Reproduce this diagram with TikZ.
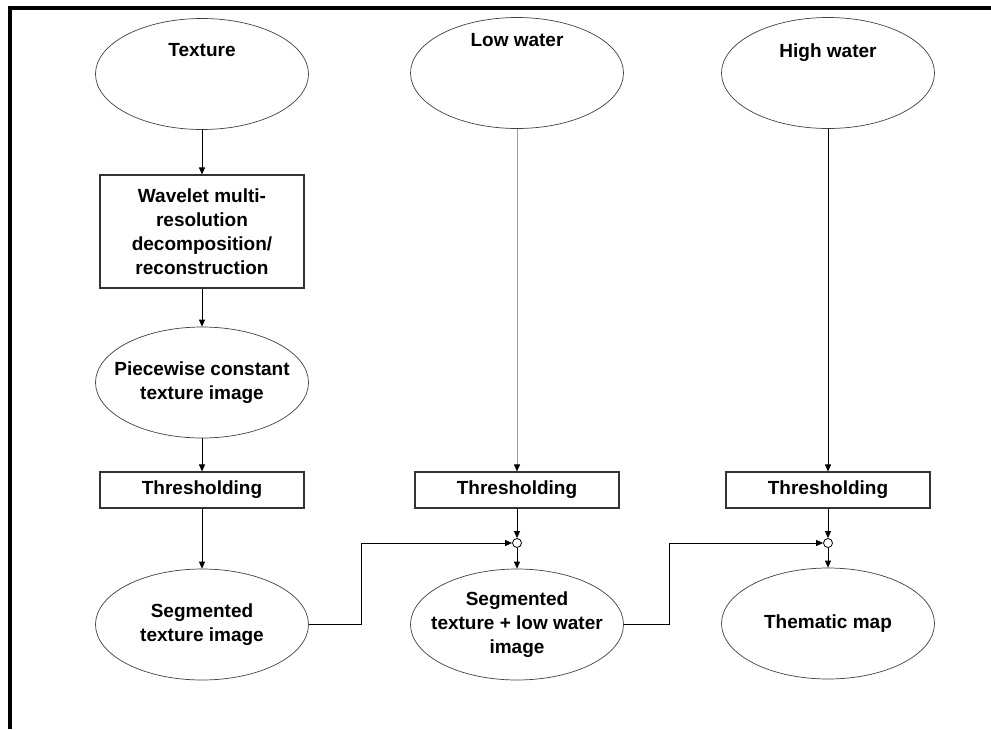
\documentclass[tikz,border=0pt]{standalone}
\usepackage{fontspec}
\setmainfont{Liberation Sans}
\usetikzlibrary{positioning,arrows.meta,shapes.geometric}
\newcommand{\lbl}{\fontsize{19}{24}\selectfont\bfseries}
\tikzset{
  blob/.style={ellipse, draw=black!75, line width=0.7pt, minimum width=213pt,
               minimum height=111pt, inner xsep=-30pt, inner ysep=-4pt,
               align=center, font=\lbl},
  box/.style={draw=black!80, line width=1.1pt, minimum width=204pt,
              inner sep=0pt, align=center, font=\lbl},
  arr/.style={-{Triangle[length=7pt,width=6pt,color=black]}, line width=0.8pt},
  joint/.style={circle, draw, fill=white, minimum size=9pt, inner sep=0pt, line width=0.8pt},
}

\begin{document}
\begin{tikzpicture}[x=1pt, y=-1pt]
  \useasboundingbox (0,0) rectangle (991,729);
  \draw[line width=4pt] (10,729) -- (10,8) -- (991,8);

  % inputs
  \node[blob, label={[font=\lbl, yshift=24pt]center:Texture}] (tex) at (202,74) {};
  \node[blob, label={[font=\lbl, yshift=33pt]center:Low water}] (low) at (517,73) {};
  \node[blob, label={[font=\lbl, yshift=20pt]center:High water}] (high) at (828,73) {};

  % texture branch
  \node[box, minimum height=113pt] (wav) at (202,231.5)
    {Wavelet multi-\\resolution\\decomposition/\\reconstruction};
  \node[blob] (pc) at (202,382.5) {Piecewise constant\\texture image};
  \node[box, minimum height=36pt] (th1) at (202,490) {Thresholding};
  \node[blob] (seg1) at (202,624.5) {Segmented\\texture image};

  % water levels
  \node[box, minimum height=36pt] (th2) at (517,490) {Thresholding};
  \node[box, minimum height=36pt] (th3) at (828,490) {Thresholding};
  \node[joint] (j2) at (517,543) {};
  \node[joint] (j3) at (828,543) {};
  \node[blob] (seg2) at (517,624.5) {Segmented\\texture + low water\\image};
  \node[blob] (map) at (828,623.5) {Thematic map};

  \draw[arr] (tex) -- (wav);
  \draw[arr] (wav) -- (pc);
  \draw[arr] (pc) -- (th1);
  \draw[arr] (th1) -- (seg1);
  \draw[arr, draw=black!40] (low) -- (th2);
  \draw[arr] (high) -- (th3);
  \draw[arr] (th2) -- (j2);
  \draw[arr] (j2) -- (seg2);
  \draw[arr] (th3) -- (j3);
  \draw[arr] (j3) -- (map);
  \draw[arr] (seg1.east) -- ++(53,0) |- (j2);
  \draw[arr] (seg2.east) -- ++(46,0) |- (j3);
\end{tikzpicture}
\end{document}
